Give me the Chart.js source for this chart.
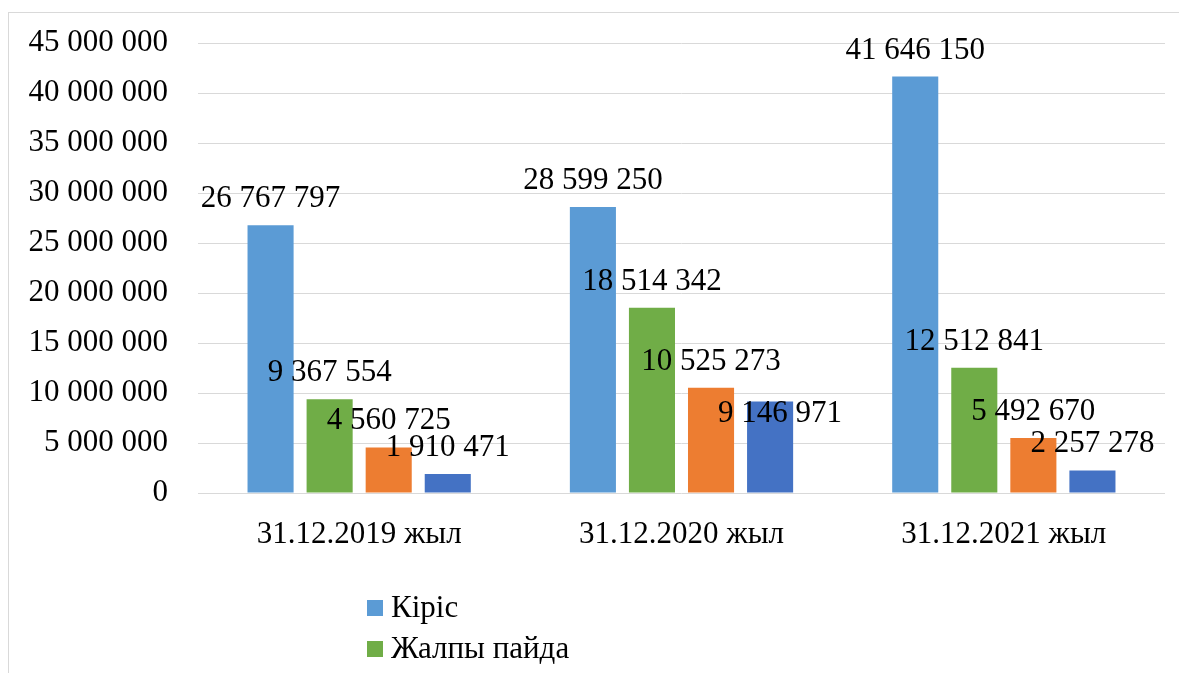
<!DOCTYPE html>
<html>
<head>
<meta charset="utf-8">
<script src="https://cdn.jsdelivr.net/npm/chart.js@4"></script>
<style>
  html, body { margin: 0; padding: 0; background: #fff; overflow: hidden; }
  #wrap { position: relative; width: 1179px; height: 673px; }
  #frame { position: absolute; left: 8px; top: 12px; width: 1300px; height: 800px; border: 1px solid #d9d9d9; box-sizing: border-box; }
  #c { position: absolute; left: 0; top: 0; }
  #legend { position: absolute; left: 367px; top: 586px; font-family: 'Liberation Serif', 'Times New Roman', serif; font-size: 31px; color: #000; }
  .item { height: 41px; line-height: 41px; white-space: nowrap; }
  .box { display: inline-block; width: 16px; height: 16px; margin-right: 8px; vertical-align: middle; position: relative; top: -2px; }
</style>
</head>
<body>
<div id="wrap">
  <div id="frame"></div>
  <canvas id="c" width="1179" height="673"></canvas>
  <div id="legend"></div>
</div>
<script>
const categories = ['31.12.2019 жыл', '31.12.2020 жыл', '31.12.2021 жыл'];
const seriesNames = ['Кіріс', 'Жалпы пайда', 'Операциялық пайда', 'Таза пайда'];
const kiris = [26767797, 28599250, 41646150];
const zhalpyPaida = [9367554, 18514342, 12512841];
const operPaida = [4560725, 10525273, 5492670];
const tazaPaida = [1910471, 9146971, 2257278];
const colors = ['#5B9BD5', '#70AD47', '#ED7D31', '#4472C4'];

const font = "'Liberation Serif', 'Times New Roman', serif";
const fmt = v => String(v).replace(/\B(?=(\d{3})+(?!\d))/g, ' ');

// a label that was moved by hand in the original (dataset index, point index, dx, dy)
const labelShifts = [[3, 1, 10, 38]];

const valueLabels = {
    id: 'valueLabels',
    afterDatasetsDraw(chart) {
        const ctx = chart.ctx;
        ctx.save();
        ctx.font = `31px ${font}`;
        ctx.fillStyle = '#000';
        ctx.textAlign = 'center';
        ctx.textBaseline = 'alphabetic';
        chart.data.datasets.forEach((ds, i) => {
            const meta = chart.getDatasetMeta(i);
            meta.data.forEach((bar, j) => {
                const s = labelShifts.find(r => r[0] === i && r[1] === j);
                const dx = s ? s[2] : 0;
                const dy = s ? s[3] : 0;
                ctx.fillText(fmt(ds.data[j]), bar.x + dx, bar.y - 18 + dy);
            });
        });
        ctx.restore();
    }
};

const allData = [kiris, zhalpyPaida, operPaida, tazaPaida];

const chart = new Chart(document.getElementById('c'), {
    type: 'bar',
    data: {
        labels: categories,
        datasets: allData.map((d, i) => ({
            label: seriesNames[i],
            data: d,
            backgroundColor: colors[i],
            categoryPercentage: 0.733,
            barPercentage: 0.78
        }))
    },
    options: {
        responsive: false,
        animation: false,
        layout: { padding: { top: 43, right: 14, left: 0, bottom: 0 } },
        plugins: { legend: { display: false }, tooltip: { enabled: false } },
        scales: {
            x: {
                grid: { display: false },
                border: { display: false },
                ticks: { color: '#000', font: { family: font, size: 31 }, padding: 15 },
                afterFit: s => { s.height = 180; }
            },
            y: {
                min: 0,
                max: 45000000,
                grid: { color: '#d9d9d9', lineWidth: 1, drawTicks: false },
                border: { display: false },
                ticks: {
                    stepSize: 5000000,
                    color: '#000',
                    font: { family: font, size: 31 },
                    padding: 30,
                    callback: v => fmt(v)
                },
                afterFit: s => {
                    s.width = 198;
                    s.paddingTop = 0;
                    s.paddingBottom = 0;
                }
            }
        }
    },
    plugins: [valueLabels]
});

const legend = document.getElementById('legend');
chart.data.datasets.forEach(ds => {
    const row = document.createElement('div');
    row.className = 'item';
    row.innerHTML = `<span class="box" style="background:${ds.backgroundColor}"></span>${ds.label}`;
    legend.appendChild(row);
});
</script>
</body>
</html>
